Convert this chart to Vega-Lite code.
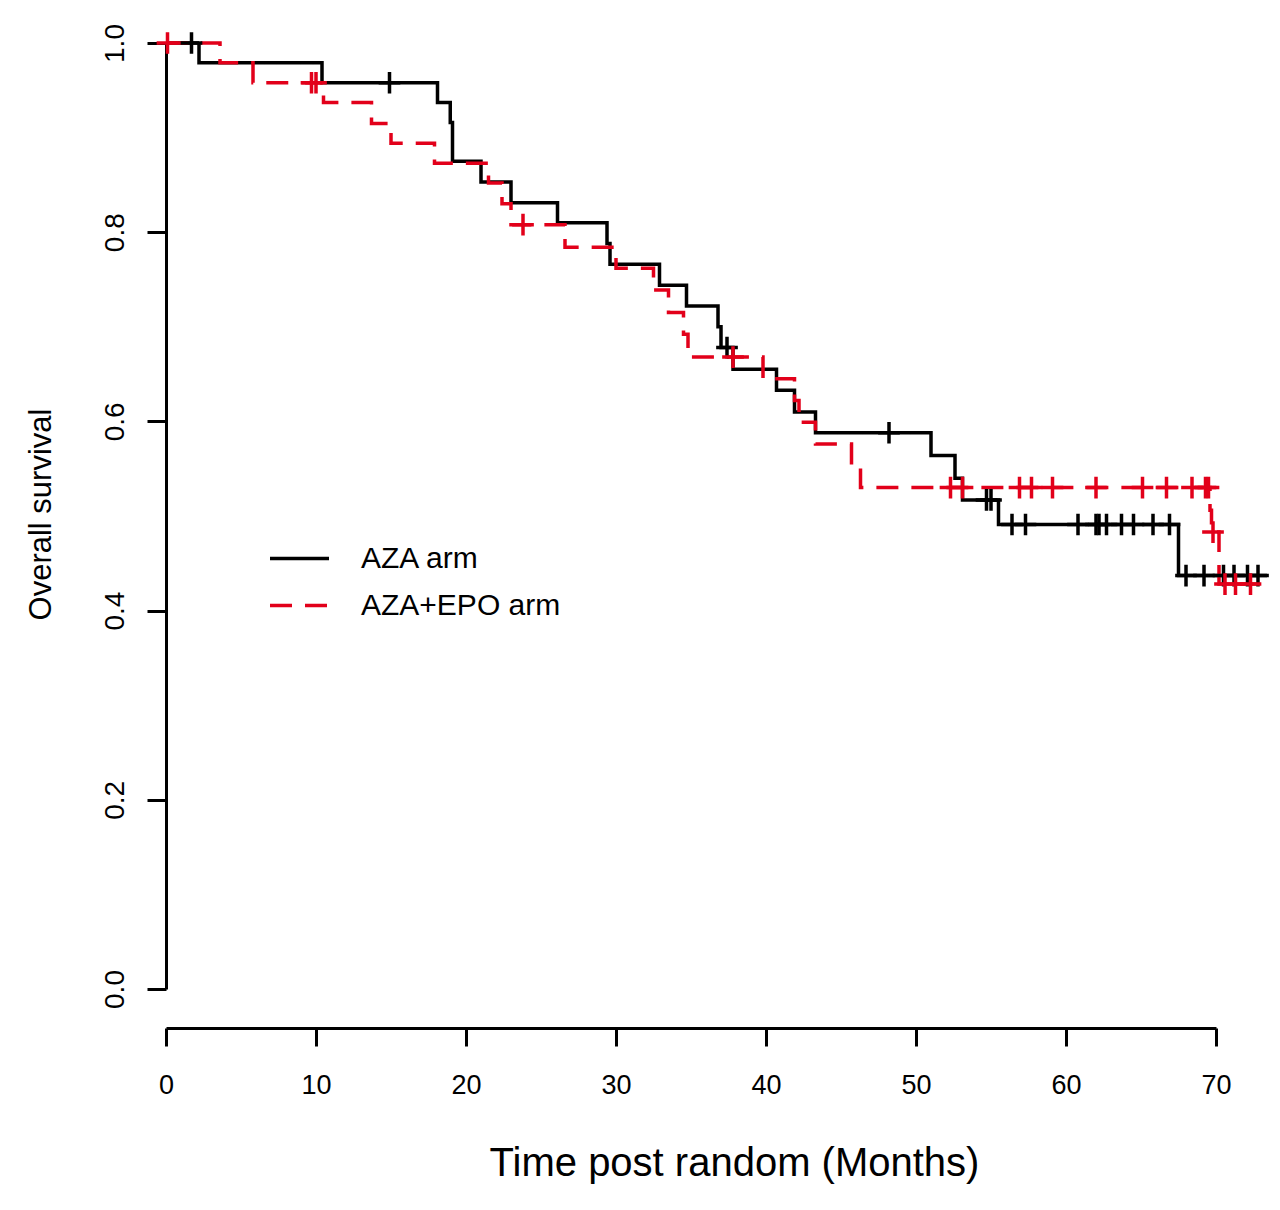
{
  "$schema": "https://vega.github.io/schema/vega-lite/v6.json",
  "autosize": {"type": "none"},
  "padding": {"left": 166, "top": 43, "right": 64, "bottom": 221},
  "width": 1050,
  "height": 946,
  "background": "white",
  "config": {"view": {"stroke": null}, "font": "Liberation Sans", "legend": {"rowPadding": -8, "symbolLimit": 0}},
  "datasets": {
    "steps": [
      {"arm": "AZA arm", "time": 0, "survival": 1.0},
      {"arm": "AZA arm", "time": 2.2, "survival": 0.979},
      {"arm": "AZA arm", "time": 10.4, "survival": 0.958},
      {"arm": "AZA arm", "time": 18.1, "survival": 0.937},
      {"arm": "AZA arm", "time": 18.95, "survival": 0.916},
      {"arm": "AZA arm", "time": 19.1, "survival": 0.875},
      {"arm": "AZA arm", "time": 21.0, "survival": 0.853},
      {"arm": "AZA arm", "time": 23.0, "survival": 0.831},
      {"arm": "AZA arm", "time": 26.1, "survival": 0.81},
      {"arm": "AZA arm", "time": 29.4, "survival": 0.788},
      {"arm": "AZA arm", "time": 29.6, "survival": 0.766},
      {"arm": "AZA arm", "time": 32.9, "survival": 0.744},
      {"arm": "AZA arm", "time": 34.7, "survival": 0.722},
      {"arm": "AZA arm", "time": 36.8, "survival": 0.7},
      {"arm": "AZA arm", "time": 37.0, "survival": 0.678},
      {"arm": "AZA arm", "time": 37.8, "survival": 0.655},
      {"arm": "AZA arm", "time": 40.7, "survival": 0.633},
      {"arm": "AZA arm", "time": 41.9, "survival": 0.61},
      {"arm": "AZA arm", "time": 43.3, "survival": 0.588},
      {"arm": "AZA arm", "time": 51.0, "survival": 0.564},
      {"arm": "AZA arm", "time": 52.6, "survival": 0.54},
      {"arm": "AZA arm", "time": 53.1, "survival": 0.517},
      {"arm": "AZA arm", "time": 55.5, "survival": 0.491},
      {"arm": "AZA arm", "time": 67.5, "survival": 0.437},
      {"arm": "AZA arm", "time": 73.4, "survival": 0.437},
      {"arm": "AZA+EPO arm", "time": 0, "survival": 1.0},
      {"arm": "AZA+EPO arm", "time": 3.6, "survival": 0.979},
      {"arm": "AZA+EPO arm", "time": 5.8, "survival": 0.958},
      {"arm": "AZA+EPO arm", "time": 10.5, "survival": 0.937},
      {"arm": "AZA+EPO arm", "time": 13.7, "survival": 0.915},
      {"arm": "AZA+EPO arm", "time": 15.0, "survival": 0.894},
      {"arm": "AZA+EPO arm", "time": 17.9, "survival": 0.873},
      {"arm": "AZA+EPO arm", "time": 21.5, "survival": 0.852},
      {"arm": "AZA+EPO arm", "time": 22.4, "survival": 0.83},
      {"arm": "AZA+EPO arm", "time": 23.0, "survival": 0.808},
      {"arm": "AZA+EPO arm", "time": 26.6, "survival": 0.784},
      {"arm": "AZA+EPO arm", "time": 30.0, "survival": 0.762},
      {"arm": "AZA+EPO arm", "time": 32.5, "survival": 0.739},
      {"arm": "AZA+EPO arm", "time": 33.5, "survival": 0.715},
      {"arm": "AZA+EPO arm", "time": 34.5, "survival": 0.692},
      {"arm": "AZA+EPO arm", "time": 34.8, "survival": 0.668},
      {"arm": "AZA+EPO arm", "time": 39.8, "survival": 0.645},
      {"arm": "AZA+EPO arm", "time": 41.9, "survival": 0.622},
      {"arm": "AZA+EPO arm", "time": 42.2, "survival": 0.599},
      {"arm": "AZA+EPO arm", "time": 43.3, "survival": 0.576},
      {"arm": "AZA+EPO arm", "time": 45.7, "survival": 0.553},
      {"arm": "AZA+EPO arm", "time": 46.3, "survival": 0.53},
      {"arm": "AZA+EPO arm", "time": 69.6, "survival": 0.506},
      {"arm": "AZA+EPO arm", "time": 69.7, "survival": 0.483},
      {"arm": "AZA+EPO arm", "time": 70.2, "survival": 0.428},
      {"arm": "AZA+EPO arm", "time": 73.2, "survival": 0.428}
    ],
    "censored": [
      {"arm": "AZA arm", "time": 1.7, "survival": 1.0},
      {"arm": "AZA arm", "time": 14.9, "survival": 0.958},
      {"arm": "AZA arm", "time": 37.4, "survival": 0.678},
      {"arm": "AZA arm", "time": 48.2, "survival": 0.588},
      {"arm": "AZA arm", "time": 54.7, "survival": 0.517},
      {"arm": "AZA arm", "time": 55.0, "survival": 0.517},
      {"arm": "AZA arm", "time": 56.4, "survival": 0.491},
      {"arm": "AZA arm", "time": 57.3, "survival": 0.491},
      {"arm": "AZA arm", "time": 60.8, "survival": 0.491},
      {"arm": "AZA arm", "time": 62.0, "survival": 0.491},
      {"arm": "AZA arm", "time": 62.2, "survival": 0.491},
      {"arm": "AZA arm", "time": 62.7, "survival": 0.491},
      {"arm": "AZA arm", "time": 63.7, "survival": 0.491},
      {"arm": "AZA arm", "time": 64.5, "survival": 0.491},
      {"arm": "AZA arm", "time": 65.8, "survival": 0.491},
      {"arm": "AZA arm", "time": 66.9, "survival": 0.491},
      {"arm": "AZA arm", "time": 68.0, "survival": 0.437},
      {"arm": "AZA arm", "time": 69.2, "survival": 0.437},
      {"arm": "AZA arm", "time": 70.5, "survival": 0.437},
      {"arm": "AZA arm", "time": 71.2, "survival": 0.437},
      {"arm": "AZA arm", "time": 72.1, "survival": 0.437},
      {"arm": "AZA arm", "time": 72.8, "survival": 0.437},
      {"arm": "AZA+EPO arm", "time": 0.1, "survival": 1.0},
      {"arm": "AZA+EPO arm", "time": 9.7, "survival": 0.958},
      {"arm": "AZA+EPO arm", "time": 10.0, "survival": 0.958},
      {"arm": "AZA+EPO arm", "time": 23.8, "survival": 0.808},
      {"arm": "AZA+EPO arm", "time": 37.8, "survival": 0.668},
      {"arm": "AZA+EPO arm", "time": 52.3, "survival": 0.53},
      {"arm": "AZA+EPO arm", "time": 53.1, "survival": 0.53},
      {"arm": "AZA+EPO arm", "time": 56.9, "survival": 0.53},
      {"arm": "AZA+EPO arm", "time": 57.7, "survival": 0.53},
      {"arm": "AZA+EPO arm", "time": 59.1, "survival": 0.53},
      {"arm": "AZA+EPO arm", "time": 62.0, "survival": 0.53},
      {"arm": "AZA+EPO arm", "time": 65.1, "survival": 0.53},
      {"arm": "AZA+EPO arm", "time": 66.7, "survival": 0.53},
      {"arm": "AZA+EPO arm", "time": 68.4, "survival": 0.53},
      {"arm": "AZA+EPO arm", "time": 69.3, "survival": 0.53},
      {"arm": "AZA+EPO arm", "time": 69.5, "survival": 0.53},
      {"arm": "AZA+EPO arm", "time": 69.8, "survival": 0.483},
      {"arm": "AZA+EPO arm", "time": 70.6, "survival": 0.428},
      {"arm": "AZA+EPO arm", "time": 71.3, "survival": 0.428},
      {"arm": "AZA+EPO arm", "time": 72.3, "survival": 0.428}
    ]
  },
  "layer": [
    {
      "data": {"name": "steps"},
      "mark": {"type": "line", "interpolate": "step-after", "strokeWidth": 3.5},
      "encoding": {
        "x": {
          "field": "time", "type": "quantitative",
          "scale": {"domain": [0, 70], "nice": false, "zero": false},
          "axis": {
            "values": [0, 10, 20, 30, 40, 50, 60, 70],
            "grid": false, "offset": 39,
            "domainColor": "black", "domainWidth": 3,
            "tickColor": "black", "tickWidth": 3, "tickSize": 18,
            "labelFont": "Liberation Sans", "labelFontSize": 27, "labelColor": "black",
            "labelPadding": 26, "labelFlush": false, "labelOverlap": false,
            "title": "Time post random (Months)",
            "titleFont": "Liberation Sans", "titleFontSize": 40, "titleFontWeight": "normal", "titleColor": "black",
            "titleX": 568, "titleY": 147, "titleAlign": "center", "titleBaseline": "alphabetic"
          }
        },
        "y": {
          "field": "survival", "type": "quantitative",
          "scale": {"domain": [0, 1], "nice": false},
          "axis": {
            "values": [0, 0.2, 0.4, 0.6, 0.8, 1.0], "format": ".1f",
            "grid": false,
            "domainColor": "black", "domainWidth": 3,
            "tickColor": "black", "tickWidth": 3, "tickSize": 19,
            "labelFont": "Liberation Sans", "labelFontSize": 28, "labelColor": "black",
            "labelAngle": -90, "labelAlign": "center", "labelBaseline": "alphabetic",
            "labelPadding": 24, "labelFlush": false, "labelOverlap": false,
            "title": "Overall survival",
            "titleFont": "Liberation Sans", "titleFontSize": 31, "titleFontWeight": "normal", "titleColor": "black",
            "titleAngle": -90, "titleX": -116, "titleY": 471, "titleAlign": "center", "titleBaseline": "alphabetic"
          }
        },
        "color": {
          "field": "arm", "type": "nominal",
          "scale": {"domain": ["AZA arm", "AZA+EPO arm"], "range": ["#000000", "#e2001a"]},
          "legend": {
            "title": null, "orient": "none", "legendX": 102, "legendY": 484,
            "symbolType": "stroke", "symbolSize": 3481, "symbolStrokeWidth": 3.5,
            "labelFont": "Liberation Sans", "labelFontSize": 30, "labelColor": "black", "labelLimit": 0,
            "labelOffset": 30, "padding": 0
          }
        },
        "strokeDash": {
          "field": "arm", "type": "nominal",
          "scale": {"domain": ["AZA arm", "AZA+EPO arm"], "range": [[1, 0], [22, 13]]},
          "legend": {
            "title": null, "orient": "none", "legendX": 102, "legendY": 484,
            "symbolType": "stroke", "symbolSize": 3481, "symbolStrokeWidth": 3.5,
            "labelFont": "Liberation Sans", "labelFontSize": 30, "labelColor": "black", "labelLimit": 0,
            "labelOffset": 30, "padding": 0
          }
        }
      }
    },
    {
      "data": {"name": "censored"},
      "mark": {"type": "point", "shape": "M0,-1V1M-1,0H1", "filled": false, "strokeWidth": 3.5, "size": 470, "opacity": 1},
      "encoding": {
        "x": {"field": "time", "type": "quantitative"},
        "y": {"field": "survival", "type": "quantitative"},
        "color": {"field": "arm", "type": "nominal", "legend": null}
      }
    }
  ]
}
